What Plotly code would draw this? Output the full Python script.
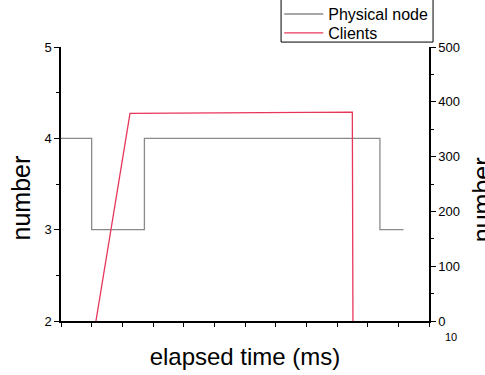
import plotly.graph_objects as go

# Data (x in tick-interval units, axis 0..12)
phys_x = [0, 1.0, 1.0, 2.72, 2.72, 10.4, 10.4, 11.17]
phys_y = [4, 4, 3, 3, 4, 4, 3, 3]
cli_x = [1.14, 2.25, 9.5, 9.52]
cli_y = [0, 379, 381, 0]

fig = go.Figure()
fig.add_trace(go.Scatter(x=phys_x, y=phys_y, mode="lines", name="Physical node",
                         line=dict(color="#8a8a8a", width=1.3), legend="legend"))
fig.add_trace(go.Scatter(x=cli_x, y=cli_y, mode="lines", name="Clients", yaxis="y2",
                         line=dict(color="#e8365a", width=1.3), legend="legend2"))

font = dict(family="Liberation Sans, Arial, sans-serif", color="black")
leg_common = dict(x=0.593, xanchor="left", yanchor="middle", borderwidth=0,
                  bgcolor="rgba(0,0,0,0)", font=dict(**font, size=16), itemwidth=39)
fig.update_layout(
    width=485, height=375,
    margin=dict(l=61, r=56, t=47, b=54, autoexpand=False),
    paper_bgcolor="white", plot_bgcolor="white",
    font=dict(**font, size=13),
    showlegend=True,
    legend=dict(y=1.120, **leg_common),
    legend2=dict(y=1.051, **leg_common),
    xaxis=dict(range=[0, 12], dtick=1, tick0=0, showticklabels=False,
               ticks="outside", ticklen=4, tickcolor="black",
               showline=True, linecolor="black", linewidth=1.5,
               showgrid=False, zeroline=False,
               title=dict(text="elapsed time (ms)", font=dict(**font, size=24), standoff=22)),
    yaxis=dict(range=[2, 5], dtick=1, tick0=2, ticks="outside", ticklen=5,
               tickcolor="black", showline=True, linecolor="black", linewidth=1.5,
               showgrid=False, zeroline=False,
               minor=dict(dtick=0.5, ticks="outside", ticklen=3, tickcolor="black")),
    yaxis2=dict(range=[0, 500], dtick=100, tick0=0, overlaying="y", side="right",
                ticks="outside", ticklen=5, tickcolor="black",
                showline=True, linecolor="black", linewidth=1.5,
                showgrid=False, zeroline=False,
                minor=dict(dtick=50, ticks="outside", ticklen=3, tickcolor="black")),
)
# legend frame
fig.add_shape(type="rect", xref="paper", yref="paper", x0=0.598, x1=1.011, y0=1.018, y1=1.179,
              line=dict(color="black", width=1), fillcolor="rgba(0,0,0,0)", layer="above")
# axis titles
fig.add_annotation(text="number", xref="paper", yref="paper", x=-0.110, y=0.449, textangle=-90,
                   showarrow=False, font=dict(**font, size=25), xanchor="center", yanchor="middle")
fig.add_annotation(text="number", xref="paper", yref="paper", x=1.145, y=0.442, textangle=-90,
                   showarrow=False, font=dict(**font, size=25), xanchor="center", yanchor="middle")
fig.add_annotation(text="10", xref="paper", yref="paper", x=1.038, y=-0.058,
                   showarrow=False, font=dict(**font, size=11), xanchor="left", yanchor="middle")

fig.write_html("out.html", config={"displayModeBar": False},
               post_script="document.body.style.margin='0';document.body.style.overflow='hidden';")
